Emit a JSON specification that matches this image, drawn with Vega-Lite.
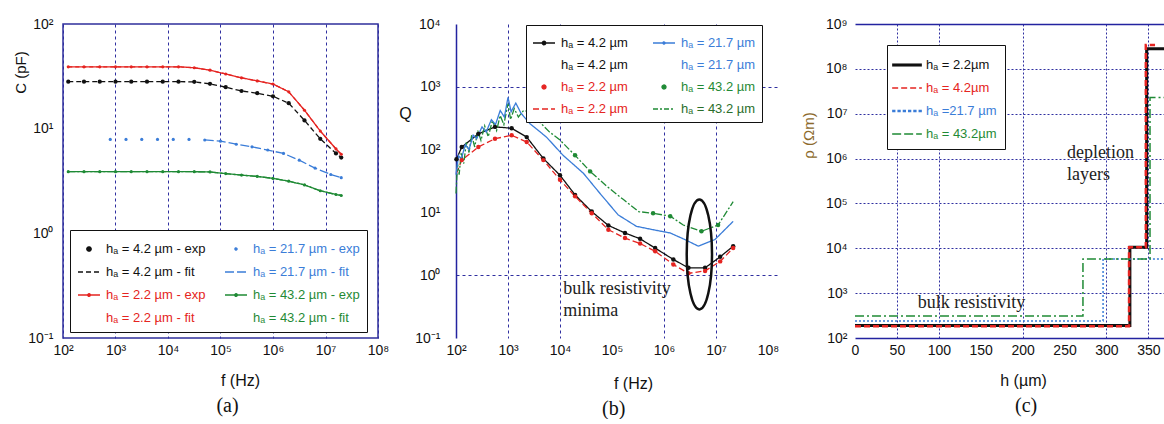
{
"$schema": "https://vega.github.io/schema/vega-lite/v6.json",
"background": "white",
"padding": {"left": 12, "top": 16, "right": 0, "bottom": 0},
"bounds": "flush",
"spacing": 78,
"config": {
  "view": {"stroke": null},
  "font": "Liberation Sans",
  "axis": {"labelFont": "Liberation Sans", "labelFontSize": 14, "labelColor": "#111111", "titleFont": "Liberation Sans", "titleFontSize": 16, "titleFontWeight": "normal", "titleColor": "#111111", "ticks": false, "domain": false, "grid": false, "labelFlush": false, "labelOverlap": false, "labelBound": false},
  "legend": {"labelFont": "Liberation Sans", "labelFontSize": 13, "strokeColor": "#111111", "fillColor": "white"},
  "title": {"font": "Liberation Serif", "fontSize": 20, "fontWeight": "normal", "color": "#111111"}
},
"resolve": {"scale": {"color": "independent", "strokeDash": "independent"}, "legend": {"color": "independent"}},
"datasets": {
  "a": [
    {"s":"e42","f":126,"v":28.1},{"s":"e42","f":251,"v":28.1},{"s":"e42","f":501,"v":28.1},{"s":"e42","f":1000,"v":28.1},{"s":"e42","f":1995,"v":28.1},{"s":"e42","f":3981,"v":28.1},{"s":"e42","f":7943,"v":28.1},{"s":"e42","f":15849,"v":28.1},{"s":"e42","f":31623,"v":28.0},{"s":"e42","f":63096,"v":26.8},{"s":"e42","f":125893,"v":24.9},{"s":"e42","f":251189,"v":22.9},{"s":"e42","f":501187,"v":21.8},{"s":"e42","f":1000000,"v":20.4},{"s":"e42","f":1995262,"v":17.5},{"s":"e42","f":3981072,"v":12.0},{"s":"e42","f":7943282,"v":8.0},{"s":"e42","f":15848932,"v":5.8},{"s":"e42","f":19952623,"v":5.3},
    {"s":"f42","f":126,"v":28.1},{"s":"f42","f":251,"v":28.1},{"s":"f42","f":501,"v":28.1},{"s":"f42","f":1000,"v":28.1},{"s":"f42","f":1995,"v":28.1},{"s":"f42","f":3981,"v":28.1},{"s":"f42","f":7943,"v":28.1},{"s":"f42","f":15849,"v":28.1},{"s":"f42","f":31623,"v":28.0},{"s":"f42","f":63096,"v":26.8},{"s":"f42","f":125893,"v":24.9},{"s":"f42","f":251189,"v":22.9},{"s":"f42","f":501187,"v":21.8},{"s":"f42","f":1000000,"v":20.4},{"s":"f42","f":1995262,"v":17.5},{"s":"f42","f":3981072,"v":12.0},{"s":"f42","f":7943282,"v":8.0},{"s":"f42","f":15848932,"v":5.8},{"s":"f42","f":19952623,"v":5.3},
    {"s":"e22","f":126,"v":39},{"s":"e22","f":251,"v":39},{"s":"e22","f":501,"v":39},{"s":"e22","f":1000,"v":39},{"s":"e22","f":1995,"v":39},{"s":"e22","f":3981,"v":39},{"s":"e22","f":7943,"v":39},{"s":"e22","f":15849,"v":39},{"s":"e22","f":31623,"v":38.2},{"s":"e22","f":63096,"v":36.2},{"s":"e22","f":125893,"v":33.3},{"s":"e22","f":251189,"v":30.6},{"s":"e22","f":501187,"v":28.6},{"s":"e22","f":1000000,"v":26.7},{"s":"e22","f":1995262,"v":22.5},{"s":"e22","f":3981072,"v":15.0},{"s":"e22","f":7943282,"v":9.5},{"s":"e22","f":15848932,"v":6.4},{"s":"e22","f":19952623,"v":5.7},
    {"s":"f22","f":126,"v":39},{"s":"f22","f":251,"v":39},{"s":"f22","f":501,"v":39},{"s":"f22","f":1000,"v":39},{"s":"f22","f":1995,"v":39},{"s":"f22","f":3981,"v":39},{"s":"f22","f":7943,"v":39},{"s":"f22","f":15849,"v":39},{"s":"f22","f":31623,"v":38.2},{"s":"f22","f":63096,"v":36.2},{"s":"f22","f":125893,"v":33.3},{"s":"f22","f":251189,"v":30.6},{"s":"f22","f":501187,"v":28.6},{"s":"f22","f":1000000,"v":26.7},{"s":"f22","f":1995262,"v":22.5},{"s":"f22","f":3981072,"v":15.0},{"s":"f22","f":7943282,"v":9.5},{"s":"f22","f":15848932,"v":6.4},{"s":"f22","f":19952623,"v":5.7},
    {"s":"e432","f":126,"v":3.88},{"s":"e432","f":251,"v":3.88},{"s":"e432","f":501,"v":3.88},{"s":"e432","f":1000,"v":3.88},{"s":"e432","f":1995,"v":3.88},{"s":"e432","f":3981,"v":3.88},{"s":"e432","f":7943,"v":3.88},{"s":"e432","f":15849,"v":3.88},{"s":"e432","f":31623,"v":3.88},{"s":"e432","f":63096,"v":3.86},{"s":"e432","f":125893,"v":3.72},{"s":"e432","f":251189,"v":3.6},{"s":"e432","f":501187,"v":3.5},{"s":"e432","f":1000000,"v":3.35},{"s":"e432","f":1995262,"v":3.15},{"s":"e432","f":3981072,"v":2.9},{"s":"e432","f":7943282,"v":2.55},{"s":"e432","f":15848932,"v":2.35},{"s":"e432","f":19952623,"v":2.3},
    {"s":"f432","f":126,"v":3.88},{"s":"f432","f":251,"v":3.88},{"s":"f432","f":501,"v":3.88},{"s":"f432","f":1000,"v":3.88},{"s":"f432","f":1995,"v":3.88},{"s":"f432","f":3981,"v":3.88},{"s":"f432","f":7943,"v":3.88},{"s":"f432","f":15849,"v":3.88},{"s":"f432","f":31623,"v":3.88},{"s":"f432","f":63096,"v":3.86},{"s":"f432","f":125893,"v":3.72},{"s":"f432","f":251189,"v":3.6},{"s":"f432","f":501187,"v":3.5},{"s":"f432","f":1000000,"v":3.35},{"s":"f432","f":1995262,"v":3.15},{"s":"f432","f":3981072,"v":2.9},{"s":"f432","f":7943282,"v":2.55},{"s":"f432","f":15848932,"v":2.35},{"s":"f432","f":19952623,"v":2.3},
    {"s":"e217","f":794,"v":7.9},{"s":"e217","f":1585,"v":7.9},{"s":"e217","f":3162,"v":7.9},{"s":"e217","f":6310,"v":7.9},{"s":"e217","f":12589,"v":7.9},{"s":"e217","f":25119,"v":7.9},{"s":"e217","f":50119,"v":7.8},{"s":"e217","f":100000,"v":7.6},{"s":"e217","f":199526,"v":7.1},{"s":"e217","f":398107,"v":6.7},{"s":"e217","f":794328,"v":6.25},{"s":"e217","f":1584893,"v":5.8},{"s":"e217","f":3162278,"v":5.0},{"s":"e217","f":6309573,"v":4.2},{"s":"e217","f":12589254,"v":3.65},{"s":"e217","f":19952623,"v":3.4},
    {"s":"f217","f":50119,"v":7.8},{"s":"f217","f":100000,"v":7.6},{"s":"f217","f":199526,"v":7.1},{"s":"f217","f":398107,"v":6.7},{"s":"f217","f":794328,"v":6.25},{"s":"f217","f":1584893,"v":5.8},{"s":"f217","f":3162278,"v":5.0},{"s":"f217","f":6309573,"v":4.2},{"s":"f217","f":12589254,"v":3.65},{"s":"f217","f":19952623,"v":3.4}
  ],
  "b": [
    {"s":"e42","f":102,"v":70},{"s":"e42","f":129,"v":110},{"s":"e42","f":269,"v":178},{"s":"e42","f":562,"v":230},{"s":"e42","f":1175,"v":219},{"s":"e42","f":2291,"v":158},{"s":"e42","f":4786,"v":72},{"s":"e42","f":10000,"v":39},{"s":"e42","f":19498,"v":19},{"s":"e42","f":40738,"v":10.3},{"s":"e42","f":85114,"v":6.2},{"s":"e42","f":177828,"v":4.7},{"s":"e42","f":346737,"v":3.8},{"s":"e42","f":676083,"v":2.7},{"s":"e42","f":1513561,"v":1.78},{"s":"e42","f":2951209,"v":1.31},{"s":"e42","f":6165950,"v":1.31},{"s":"e42","f":12022644,"v":1.96},{"s":"e42","f":21379621,"v":2.9},
    {"s":"e22","f":129,"v":68},{"s":"e22","f":269,"v":110},{"s":"e22","f":562,"v":149},{"s":"e22","f":1175,"v":169},{"s":"e22","f":2291,"v":132},{"s":"e22","f":4786,"v":68},{"s":"e22","f":10000,"v":33},{"s":"e22","f":19498,"v":18},{"s":"e22","f":40738,"v":9.7},{"s":"e22","f":85114,"v":5.3},{"s":"e22","f":177828,"v":3.9},{"s":"e22","f":346737,"v":3.2},{"s":"e22","f":676083,"v":2.4},{"s":"e22","f":1513561,"v":1.48},{"s":"e22","f":2951209,"v":1.07},{"s":"e22","f":6165950,"v":1.17},{"s":"e22","f":12022644,"v":1.66},{"s":"e22","f":21379621,"v":2.7},
    {"s":"f22","f":102,"v":42},{"s":"f22","f":129,"v":68},{"s":"f22","f":269,"v":110},{"s":"f22","f":562,"v":149},{"s":"f22","f":1175,"v":169},{"s":"f22","f":2291,"v":132},{"s":"f22","f":4786,"v":68},{"s":"f22","f":10000,"v":33},{"s":"f22","f":19498,"v":18},{"s":"f22","f":40738,"v":9.7},{"s":"f22","f":85114,"v":5.3},{"s":"f22","f":177828,"v":3.9},{"s":"f22","f":346737,"v":3.2},{"s":"f22","f":676083,"v":2.4},{"s":"f22","f":1513561,"v":1.48},{"s":"f22","f":2951209,"v":1.07},{"s":"f22","f":6165950,"v":1.17},{"s":"f22","f":12022644,"v":1.66},{"s":"f22","f":21379621,"v":2.7},
    {"s":"f432","f":100,"v":20},{"s":"f432","f":107,"v":60},{"s":"f432","f":115,"v":40},{"s":"f432","f":126,"v":90},{"s":"f432","f":141,"v":60},{"s":"f432","f":158,"v":130},{"s":"f432","f":178,"v":90},{"s":"f432","f":200,"v":170},{"s":"f432","f":229,"v":110},{"s":"f432","f":263,"v":200},{"s":"f432","f":302,"v":140},{"s":"f432","f":355,"v":240},{"s":"f432","f":417,"v":160},{"s":"f432","f":501,"v":290},{"s":"f432","f":603,"v":200},{"s":"f432","f":708,"v":350},{"s":"f432","f":832,"v":250},{"s":"f432","f":1000,"v":540},{"s":"f432","f":1122,"v":300},{"s":"f432","f":1318,"v":450},{"s":"f432","f":1585,"v":330},{"s":"f432","f":1995,"v":420},{"s":"f432","f":2630,"v":400},{"s":"f432","f":3981,"v":280},{"s":"f432","f":6310,"v":190},{"s":"f432","f":10000,"v":142},{"s":"f432","f":19498,"v":81},{"s":"f432","f":38019,"v":45},{"s":"f432","f":79433,"v":26},{"s":"f432","f":165959,"v":16},{"s":"f432","f":323594,"v":10.3},{"s":"f432","f":616595,"v":9.7},{"s":"f432","f":1318257,"v":8.7},{"s":"f432","f":2344229,"v":6.3},{"s":"f432","f":5248075,"v":5.0},{"s":"f432","f":10964782,"v":6.3},{"s":"f432","f":21379621,"v":14.8},
    {"s":"e432","f":19498,"v":81},{"s":"e432","f":38019,"v":45},{"s":"e432","f":616595,"v":9.7},{"s":"e432","f":1318257,"v":8.7},{"s":"e432","f":5248075,"v":5.0},{"s":"e432","f":10964782,"v":6.3},
    {"s":"e217","f":100,"v":40},{"s":"e217","f":112,"v":80},{"s":"e217","f":126,"v":70},{"s":"e217","f":151,"v":120},{"s":"e217","f":178,"v":100},{"s":"e217","f":214,"v":170},{"s":"e217","f":251,"v":150},{"s":"e217","f":316,"v":230},{"s":"e217","f":380,"v":190},{"s":"e217","f":479,"v":300},{"s":"e217","f":575,"v":250},{"s":"e217","f":708,"v":420},{"s":"e217","f":851,"v":330},{"s":"e217","f":1000,"v":680},{"s":"e217","f":1148,"v":400},{"s":"e217","f":1413,"v":550},{"s":"e217","f":1778,"v":380},{"s":"e217","f":2630,"v":260},{"s":"e217","f":5495,"v":158},{"s":"e217","f":11482,"v":81},{"s":"e217","f":28184,"v":42},{"s":"e217","f":58884,"v":20},{"s":"e217","f":131826,"v":9.1},{"s":"e217","f":295121,"v":6.0},{"s":"e217","f":616595,"v":5.3},{"s":"e217","f":1318257,"v":4.7},{"s":"e217","f":2511886,"v":3.7},{"s":"e217","f":4570882,"v":2.9},{"s":"e217","f":9549926,"v":3.7},{"s":"e217","f":21379621,"v":7.2}
  ],
  "bell": [{"f": 4786000, "v": 2.14}],
  "bnote": [{"f": 11500, "v": 0.83, "t": "bulk resistivity\nminima"}],
  "c": [
    {"s":"c22","i":0,"h":0,"v":190},{"s":"c22","i":1,"h":328,"v":190},{"s":"c22","i":2,"h":328,"v":10500},{"s":"c22","i":3,"h":348,"v":10500},{"s":"c22","i":4,"h":348,"v":280000000},{"s":"c22","i":5,"h":368.7,"v":280000000},
    {"s":"c42","i":0,"h":0,"v":183},{"s":"c42","i":1,"h":327,"v":183},{"s":"c42","i":2,"h":327,"v":10500},{"s":"c42","i":3,"h":347,"v":10500},{"s":"c42","i":4,"h":347,"v":340000000},{"s":"c42","i":5,"h":358,"v":340000000},
    {"s":"c217","i":0,"h":0,"v":240},{"s":"c217","i":1,"h":296,"v":240},{"s":"c217","i":2,"h":296,"v":5800},{"s":"c217","i":3,"h":368.7,"v":5800},
    {"s":"c432","i":0,"h":0,"v":310},{"s":"c432","i":1,"h":272,"v":310},{"s":"c432","i":2,"h":272,"v":5800},{"s":"c432","i":3,"h":352,"v":5800},{"s":"c432","i":4,"h":352,"v":23000000},{"s":"c432","i":5,"h":368.7,"v":23000000}
  ],
  "cnote": [{"h": 253, "v": 2100000, "t": "depletion\nlayers"}, {"h": 75, "v": 950, "t": "bulk resistivity"}]
},
"hconcat": [
  {
    "width": 315, "height": 314,
    "view": {"stroke": "#2f2f9c", "strokeWidth": 1.5},
    "title": {"text": "(a)", "orient": "bottom", "anchor": "middle", "frame": "group", "offset": 8, "dx": 7},
    "data": {"name": "a"},
    "encoding": {
      "x": {"field": "f", "type": "quantitative", "scale": {"type": "log", "domain": [100, 100000000]},
        "axis": {"values": [100, 1000, 10000, 100000, 1000000, 10000000, 100000000], "labelExpr": "'10' + ['⁻¹','⁰','¹','²','³','⁴','⁵','⁶','⁷','⁸','⁹'][round(log(datum.value)/LN10)+1]", "labelPadding": 5, "grid": true, "gridColor": "#2f2fa0", "gridDash": [3, 3], "title": "f (Hz)", "titleX": 177, "titleY": 42, "titleBaseline": "middle"}},
      "y": {"field": "v", "type": "quantitative", "scale": {"type": "log", "domain": [0.1, 100]},
        "axis": {"values": [0.1, 1, 10, 100], "labelExpr": "'10' + ['⁻¹','⁰','¹','²','³','⁴','⁵','⁶','⁷','⁸','⁹'][round(log(datum.value)/LN10)+1]", "labelPadding": 10, "title": "C (pF)", "titleFontSize": 15, "titleX": -43, "titleY": 48, "titleBaseline": "middle"}},
      "color": {"field": "s", "type": "nominal",
        "scale": {"domain": ["e42","f42","e22","f22","e217","f217","e432","f432"], "range": ["#111111","#111111","#e52421","#e52421","#3b7dd8","#3b7dd8","#1f8a35","#1f8a35"]},
        "legend": {"title": null, "orient": "none", "legendX": 7, "legendY": 206, "columns": 2, "columnPadding": 16, "rowPadding": 4, "padding": 7, "symbolSize": 484, "labelOffset": 5, "labelFontSize": 13,
          "labelExpr": "{e42:'hₐ = 4.2 µm - exp',e217:'hₐ = 21.7 µm - exp',f42:'hₐ = 4.2 µm - fit',f217:'hₐ = 21.7 µm - fit',e22:'hₐ = 2.2 µm - exp',e432:'hₐ = 43.2 µm - exp',f22:'hₐ = 2.2 µm - fit',f432:'hₐ = 43.2 µm - fit'}[datum.value]",
          "encode": {
            "symbols": {"update": {
              "shape": {"signal": "{e42:'M-0.2,0A0.2,0.2 0 1,0 0.2,0A0.2,0.2 0 1,0 -0.2,0Z',e217:'M-0.1,0A0.1,0.1 0 1,0 0.1,0A0.1,0.1 0 1,0 -0.1,0Z',f42:'M-1,0H1',f217:'M-1,0H1',e22:'M-1,0H1M-0.12,0A0.12,0.12 0 1,0 0.12,0A0.12,0.12 0 1,0 -0.12,0Z',e432:'M-1,0H1M-0.12,0A0.12,0.12 0 1,0 0.12,0A0.12,0.12 0 1,0 -0.12,0Z',f22:'M0,0',f432:'M0,0'}[datum.value]"},
              "strokeDash": {"signal": "{f42:[5,3],f217:[9,3]}[datum.value] || [1,0]"},
              "stroke": {"signal": "{e42:'#111111',e217:'#3b7dd8',f42:'#111111',f217:'#3b7dd8',e22:'#e52421',e432:'#1f8a35',f22:'#e52421',f432:'#1f8a35'}[datum.value]"},
              "fill": {"signal": "{e42:'#111111',e217:'#3b7dd8',f42:'#111111',f217:'#3b7dd8',e22:'#e52421',e432:'#1f8a35',f22:'#e52421',f432:'#1f8a35'}[datum.value]"},
              "strokeWidth": {"value": 1.3}, "size": {"value": 484}, "opacity": {"value": 1}, "fillOpacity": {"value": 1}, "strokeOpacity": {"value": 1}}},
            "labels": {"update": {"fill": {"signal": "{e42:'#111111',e217:'#3b7dd8',f42:'#111111',f217:'#3b7dd8',e22:'#e52421',e432:'#1f8a35',f22:'#e52421',f432:'#1f8a35'}[datum.value]"}}}
          }}}
    },
    "layer": [
      {"transform": [{"filter": {"field": "s", "oneOf": ["f42","f217","e22","e432","f22","f432"]}}],
       "mark": {"type": "line", "strokeWidth": 1.3},
       "encoding": {"strokeDash": {"field": "s", "type": "nominal", "legend": null, "scale": {"domain": ["f42","f217","e22","e432","f22","f432"], "range": [[5,3],[9,3],[1,0],[1,0],[4,3],[7,2,2,2]]}}}},
      {"transform": [{"filter": {"field": "s", "equal": "e42"}}], "mark": {"type": "point", "filled": true, "size": 18, "opacity": 1}},
      {"transform": [{"filter": {"field": "s", "oneOf": ["e217","e22","e432"]}}], "mark": {"type": "point", "filled": true, "size": 10, "opacity": 1}}
    ]
  },
  {
    "width": 321, "height": 314,
    "title": {"text": "(b)", "orient": "bottom", "anchor": "start", "frame": "group", "offset": 8, "dx": 146},
    "encoding": {
      "x": {"field": "f", "type": "quantitative", "scale": {"type": "log", "domain": [100, 148900000]},
        "axis": {"values": [100, 1000, 10000, 100000, 1000000, 10000000, 100000000], "labelExpr": "'10' + ['⁻¹','⁰','¹','²','³','⁴','⁵','⁶','⁷','⁸','⁹'][round(log(datum.value)/LN10)+1]", "labelPadding": 5, "grid": true, "gridColor": "#2f2fa0", "gridDash": [3, 3],
          "gridOpacity": {"condition": {"test": "datum.value == 1000 || datum.value == 10000 || datum.value == 1000000 || datum.value == 10000000", "value": 1}, "value": 0},
          "title": "f (Hz)", "titleX": 177, "titleY": 45, "titleBaseline": "middle"}},
      "y": {"field": "v", "type": "quantitative", "scale": {"type": "log", "domain": [0.1, 10000]},
        "axis": {"values": [0.1, 1, 10, 100, 1000, 10000], "labelExpr": "'10' + ['⁻¹','⁰','¹','²','³','⁴','⁵','⁶','⁷','⁸','⁹'][round(log(datum.value)/LN10)+1]", "labelPadding": 16, "domain": true, "domainColor": "#2323a0", "domainWidth": 1.5, "grid": true, "gridColor": "#2f2fa0", "gridDash": [3, 3],
          "gridOpacity": {"condition": {"test": "datum.value == 1000 || datum.value == 1", "value": 1}, "value": 0},
          "title": "Q", "titleX": -51, "titleY": 89, "titleBaseline": "middle", "titleAngle": 0}}
    },
    "layer": [
      {"data": {"name": "b"},
       "transform": [{"filter": {"field": "s", "oneOf": ["e42","e217","f22","f432"]}}],
       "mark": {"type": "line", "strokeWidth": 1.3},
       "encoding": {
         "color": {"field": "s", "type": "nominal",
           "scale": {"domain": ["e42","f42","e22","f22","e217","f217","e432","f432"], "range": ["#111111","#111111","#e52421","#e52421","#3b7dd8","#3b7dd8","#1f8a35","#1f8a35"]},
           "legend": {"title": null, "orient": "none", "legendX": 70, "legendY": 1, "columns": 2, "columnPadding": 22, "rowPadding": 3, "padding": 6, "symbolSize": 484, "labelOffset": 5, "labelFontSize": 13,
             "labelExpr": "{e42:'hₐ = 4.2 µm',e217:'hₐ = 21.7 µm',f42:'hₐ = 4.2 µm',f217:'hₐ = 21.7 µm',e22:'hₐ = 2.2 µm',e432:'hₐ = 43.2 µm',f22:'hₐ = 2.2 µm',f432:'hₐ = 43.2 µm'}[datum.value]",
             "encode": {
               "symbols": {"update": {
                 "shape": {"signal": "{e42:'M-1,0H1M-0.16,0A0.16,0.16 0 1,0 0.16,0A0.16,0.16 0 1,0 -0.16,0Z',e217:'M-1,0H1M-0.1,0A0.1,0.1 0 1,0 0.1,0A0.1,0.1 0 1,0 -0.1,0Z',f42:'M0,0',f217:'M0,0',e22:'M-0.18,0A0.18,0.18 0 1,0 0.18,0A0.18,0.18 0 1,0 -0.18,0Z',e432:'M-0.18,0A0.18,0.18 0 1,0 0.18,0A0.18,0.18 0 1,0 -0.18,0Z',f22:'M-1,0H1',f432:'M-1,0H1'}[datum.value]"},
                 "strokeDash": {"signal": "{f22:[6,3],f432:[5,2,2,2]}[datum.value] || [1,0]"},
                 "stroke": {"signal": "{e42:'#111111',e217:'#3b7dd8',f42:'#111111',f217:'#3b7dd8',e22:'#e52421',e432:'#1f8a35',f22:'#e52421',f432:'#333333'}[datum.value]"},
                 "fill": {"signal": "{e42:'#111111',e217:'#3b7dd8',f42:'#111111',f217:'#3b7dd8',e22:'#e52421',e432:'#1f8a35',f22:'#e52421',f432:'#333333'}[datum.value]"},
                 "strokeWidth": {"value": 1.3}, "size": {"value": 484}, "opacity": {"value": 1}, "fillOpacity": {"value": 1}, "strokeOpacity": {"value": 1}}},
               "labels": {"update": {"fill": {"signal": "{e42:'#111111',e217:'#3b7dd8',f42:'#111111',f217:'#3b7dd8',e22:'#e52421',e432:'#1f8a35',f22:'#e52421',f432:'#2a6e2a'}[datum.value]"}}}
             }}},
         "strokeDash": {"field": "s", "type": "nominal", "legend": null, "scale": {"domain": ["e42","e217","f22","f432"], "range": [[1,0],[1,0],[6,3],[7,2,2,2]]}}}},
      {"data": {"name": "b"},
       "transform": [{"filter": {"field": "s", "oneOf": ["e42","e22","e432"]}}],
       "mark": {"type": "point", "filled": true, "size": 20, "opacity": 1},
       "encoding": {"color": {"field": "s", "type": "nominal", "scale": {"domain": ["e42","f42","e22","f22","e217","f217","e432","f432"], "range": ["#111111","#111111","#e52421","#e52421","#3b7dd8","#3b7dd8","#1f8a35","#1f8a35"]}}}},
      {"data": {"name": "bell"},
       "mark": {"type": "point", "shape": "M0,-1A0.23,1 0 1,1 0,1A0.23,1 0 1,1 0,-1Z", "size": 12100, "filled": false, "strokeWidth": 2.5, "color": "#111111", "opacity": 1}},
      {"data": {"name": "bnote"},
       "mark": {"type": "text", "align": "left", "baseline": "top", "lineBreak": "\n", "lineHeight": 22, "font": "Liberation Serif", "fontSize": 18, "color": "#222222"},
       "encoding": {"text": {"field": "t"}}}
    ]
  },
  {
    "width": 309, "height": 314,
    "title": {"text": "(c)", "orient": "bottom", "anchor": "start", "frame": "group", "offset": 8, "dx": 160},
    "resolve": {"axis": {"x": "independent"}},
    "layer": [
      {"data": {"name": "c"},
       "encoding": {
         "x": {"field": "h", "type": "quantitative", "scale": {"domain": [0, 368.7], "nice": false, "zero": false},
           "axis": {"values": [0, 50, 100, 150, 200, 250, 300, 350], "labelPadding": 5, "domain": true, "domainColor": "#2323a0", "domainWidth": 1.5, "grid": true, "gridColor": "#2f2fa0", "gridDash": [2, 2],
             "gridOpacity": {"condition": {"test": "datum.value == 50 || datum.value == 100 || datum.value == 200 || datum.value == 300 || datum.value == 350", "value": 1}, "value": 0},
             "title": "h (µm)", "titleX": 168, "titleY": 42, "titleBaseline": "middle"}},
         "y": {"field": "v", "type": "quantitative", "scale": {"type": "log", "domain": [100, 1000000000]},
           "axis": {"values": [100, 1000, 10000, 100000, 1000000, 10000000, 100000000, 1000000000], "labelExpr": "'10' + ['⁻¹','⁰','¹','²','³','⁴','⁵','⁶','⁷','⁸','⁹'][round(log(datum.value)/LN10)+1]", "labelPadding": 8, "grid": true, "gridColor": "#2f2fa0", "gridDash": [2, 2],
             "gridOpacity": {"condition": {"test": "datum.value > 500 && datum.value < 500000000", "value": 1}, "value": 0},
             "title": "ρ (Ωm)", "titleColor": "#8c6a2c", "titleFontSize": 15, "titleX": -47, "titleY": 111, "titleBaseline": "middle"}},
         "order": {"field": "i", "type": "quantitative"},
         "color": {"field": "s", "type": "nominal",
           "scale": {"domain": ["c22","c42","c217","c432"], "range": ["#111111","#e52421","#3b7dd8","#1f8a35"]},
           "legend": {"title": null, "orient": "none", "legendX": 32, "legendY": 21, "columns": 1, "rowPadding": 4, "padding": 8, "symbolSize": 484, "labelOffset": 7, "labelFontSize": 13,
             "labelExpr": "{c22:'hₐ = 2.2µm',c42:'hₐ = 4.2µm',c217:'hₐ =21.7 µm',c432:'hₐ = 43.2µm'}[datum.value]",
             "encode": {
               "symbols": {"update": {
                 "shape": {"signal": "{c22:'M-1.35,-0.14H1.35V0.14H-1.35Z',c42:'M-1.35,0H1.35',c217:'M-1.35,-0.11h0.3v0.22h-0.3Zm0.48,0h0.3v0.22h-0.3Zm0.48,0h0.3v0.22h-0.3Zm0.48,0h0.3v0.22h-0.3Zm0.48,0h0.3v0.22h-0.3Zm0.48,0h0.3v0.22h-0.3Z',c432:'M-1.35,0H1.35'}[datum.value]"},
                 "strokeDash": {"signal": "{c42:[6,3],c432:[9,3]}[datum.value] || [1,0]"},
                 "strokeWidth": {"value": 1.5},
                 "strokeOpacity": {"signal": "(datum.value == 'c22' || datum.value == 'c217') ? 0 : 1"},
                 "stroke": {"signal": "{c22:'#111111',c42:'#e52421',c217:'#3b7dd8',c432:'#1f8a35'}[datum.value]"},
                 "fill": {"signal": "{c22:'#111111',c42:'#e52421',c217:'#3b7dd8',c432:'#1f8a35'}[datum.value]"},
                 "fillOpacity": {"value": 1},
                 "size": {"value": 484}, "opacity": {"value": 1}}},
               "labels": {"update": {"fill": {"signal": "{c22:'#111111',c42:'#e52421',c217:'#3b7dd8',c432:'#1f8a35'}[datum.value]"}}}
             }}}
       },
       "layer": [
         {"transform": [{"filter": {"field": "s", "equal": "c22"}}], "mark": {"type": "line", "strokeWidth": 3}},
         {"transform": [{"filter": {"field": "s", "equal": "c217"}}], "mark": {"type": "line", "strokeWidth": 1.5, "strokeDash": [2, 2]}},
         {"transform": [{"filter": {"field": "s", "equal": "c432"}}], "mark": {"type": "line", "strokeWidth": 1.5, "strokeDash": [9, 3, 2, 3]}},
         {"transform": [{"filter": {"field": "s", "equal": "c42"}}], "mark": {"type": "line", "strokeWidth": 2.5, "strokeDash": [6, 3]}}
       ]},
      {"data": {"name": "cnote"},
       "mark": {"type": "text", "align": "left", "baseline": "top", "lineBreak": "\n", "lineHeight": 22, "font": "Liberation Serif", "fontSize": 18, "color": "#222222"},
       "encoding": {
         "x": {"field": "h", "type": "quantitative", "scale": {"domain": [0, 368.7], "nice": false, "zero": false},
           "axis": {"orient": "top", "labels": false, "ticks": false, "grid": false, "domain": true, "domainColor": "#2323a0", "domainWidth": 1.5, "title": null}},
         "y": {"field": "v", "type": "quantitative", "scale": {"type": "log", "domain": [100, 1000000000]}},
         "text": {"field": "t"}}}
    ]
  }
]
}
